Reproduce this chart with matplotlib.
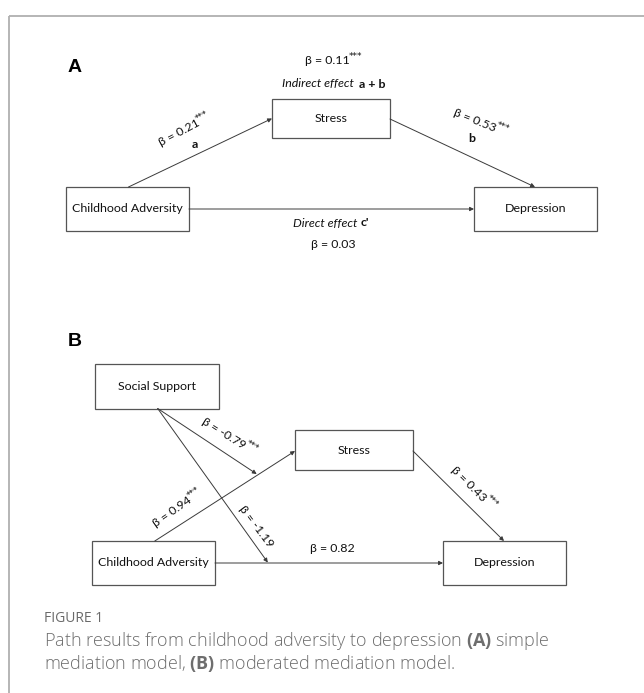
import matplotlib
matplotlib.use("Agg")
import numpy as np
import matplotlib.pyplot as plt
from matplotlib.patches import Rectangle

plt.rcParams['font.family'] = ['Lato', 'DejaVu Sans']
plt.rcParams['mathtext.fontset'] = 'custom'
plt.rcParams['mathtext.rm'] = 'Open Sans'
plt.rcParams['mathtext.bf'] = 'Open Sans:bold'

# path coefficients
beta_a = [0.21, 0.53, 0.03, 0.11]          # a, b, c', indirect
sig_a = ['***', '***', '', '***']
beta_b = [0.94, 0.43, 0.82, -0.79, -1.19]  # a, b, c', mod on a, mod on c'
sig_b = ['***', '***', '', '***', '']
nodes_a = ['Childhood Adversity', 'Stress', 'Depression']
nodes_b = ['Social Support', 'Childhood Adversity', 'Stress', 'Depression']
caption_head = 'FIGURE 1'
caption = ['Path results from childhood adversity to depression $\\mathbf{(A)}$ simple',
           'mediation model, $\\mathbf{(B)}$ moderated mediation model.']

fig = plt.figure(figsize=(6.44, 6.93), dpi=100)
ax = fig.add_axes([0, 0, 1, 1])
ax.set_xlim(0, 644)
ax.set_ylim(693, 0)
ax.axis('off')
renderer = fig.canvas.get_renderer()

# frame
ax.plot([9, 644], [16, 16], color='#b0b0b0', lw=1.3, solid_capstyle='butt')
ax.plot([9, 9], [16, 693], color='#b0b0b0', lw=1.3, solid_capstyle='butt')

LC = '#3a3a3a'
FS = 8.9
TC = '#111111'


def box(x0, y0, x1, y1, label):
    ax.add_patch(Rectangle((x0, y0), x1 - x0, y1 - y0, fill=False,
                           ec='#555555', lw=0.9))
    ax.text((x0 + x1) / 2, (y0 + y1) / 2, label, ha='center', va='center',
            fontsize=FS, color=TC)


def arrow(p0, p1):
    ax.annotate('', xy=p1, xytext=p0,
                arrowprops=dict(arrowstyle='-|>', lw=0.7, color=LC,
                                mutation_scale=6, shrinkA=0, shrinkB=0))


def label(x, y, s, rot=0, **kw):
    ax.text(x, y, s, ha='center', va='center', fontsize=FS, color=TC,
            rotation=rot, rotation_mode='anchor', **kw)


def beta(x, y, b, sig, rot=0):
    s = 'β = %.2f' % b
    label(x, y, s, rot)
    if not sig:
        return
    t = ax.text(0, 0, s, fontsize=FS)
    w = t.get_window_extent(renderer).width
    t.remove()
    r = np.radians(rot)
    d = np.array([np.cos(r), -np.sin(r)])
    up = np.array([-np.sin(r), -np.cos(r)])
    p = np.array([x, y]) + d * (w / 2 - 0.5) + up * 4
    ax.text(p[0], p[1], sig, ha='left', va='center', fontsize=6.5, color=TC,
            rotation=rot, rotation_mode='anchor', family='DejaVu Sans')


# ---- panel A
ax.text(75, 67, 'A', fontsize=14, fontweight='bold', ha='center', va='center',
        family='Liberation Sans')
box(66, 187, 189, 231, nodes_a[0])
box(272, 99, 390, 138, nodes_a[1])
box(474, 187, 597, 231, nodes_a[2])
arrow((128.5, 187), (272, 118.5))
arrow((390, 119), (535, 187))
arrow((189, 209), (474, 209))

beta(327, 60, beta_a[3], sig_a[3])
ax.text(354, 84, 'Indirect effect', ha='right', va='center', fontsize=FS,
        fontstyle='italic', color=TC)
ax.text(359, 84, 'a + b', ha='left', va='center', fontsize=FS,
        fontweight='bold', color=TC)
beta(179, 133, beta_a[0], sig_a[0], rot=28)
label(195, 144, 'a', fontweight='bold')
beta(475, 120, beta_a[1], sig_a[1], rot=-22)
label(472, 138, 'b', fontweight='bold')
ax.text(357, 223, 'Direct effect', ha='right', va='center', fontsize=FS,
        fontstyle='italic', color=TC)
ax.text(361, 223, "c'", ha='left', va='center', fontsize=FS,
        fontweight='bold', color=TC)
beta(333, 244, beta_a[2], sig_a[2])

# ---- panel B
ax.text(75, 342, 'B', fontsize=14, fontweight='bold', ha='center', va='center',
        family='Liberation Sans')
box(95, 364, 219, 408.5, nodes_b[0])
box(92, 541, 215, 585, nodes_b[1])
box(295, 430, 413, 470, nodes_b[2])
box(443, 541, 566, 585, nodes_b[3])
arrow((154.8, 541), (295, 451))
arrow((413, 451), (504, 541))
arrow((215, 563), (443, 563))
arrow((157.7, 408.5), (256.7, 474))
arrow((157.7, 408.5), (267.8, 562.5))

beta(172, 512, beta_b[0], sig_b[0], rot=35)
beta(469, 484, beta_b[1], sig_b[1], rot=-45)
beta(332, 549, beta_b[2], sig_b[2])
beta(224, 433, beta_b[3], sig_b[3], rot=-32)
beta(256, 526, beta_b[4], sig_b[4], rot=-53)

# ---- caption
ax.text(44, 618, caption_head, ha='left', va='center', fontsize=10,
        color='#6a6a6a', family='Open Sans')
for i, line in enumerate(caption):
    ax.text(44, 641 + 23 * i, line, ha='left', va='center', fontsize=13,
            color='#6e6e6e', family='Open Sans', fontweight='light')

fig.savefig('out.png', dpi=100)
